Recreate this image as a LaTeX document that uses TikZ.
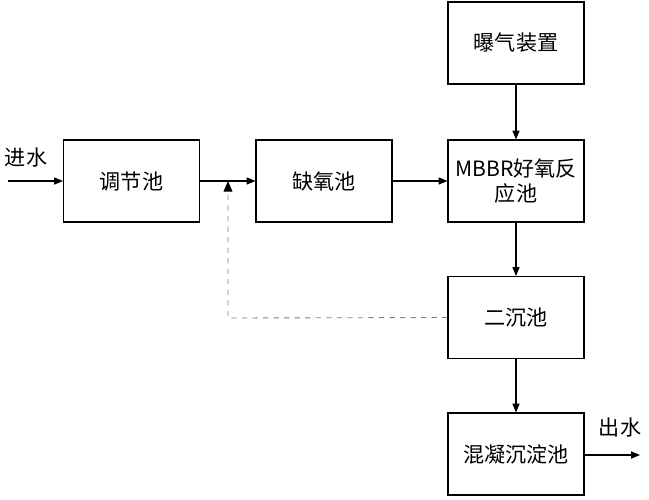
\documentclass[tikz,border=0pt]{standalone}
\usepackage{fontspec}
\setmainfont{Noto Sans CJK SC}
\usetikzlibrary{arrows.meta}
\begin{document}
\begin{tikzpicture}[x=0.02cm,y=-0.02cm,
  box/.style={draw,line width=0.6pt,minimum width=2.72cm,minimum height=1.64cm,align=center,font=\fontsize{12}{14}\selectfont},
  arr/.style={-{Triangle[length=5pt,width=4pt]},line width=0.6pt},
  lbl/.style={font=\fontsize{12}{14}\selectfont}]
\useasboundingbox (0,0) rectangle (649,500);
\node[box] (aer) at (516,43) {曝气装置};
\node[box] (tj) at (131.5,181) {调节池};
\node[box] (qy) at (324,181) {缺氧池};
\node[box] (mb) at (516,181) {MBBR好氧反\\应池};
\node[box] (ec) at (516,317.5) {二沉池};
\node[box] (hn) at (516,454) {混凝沉淀池};
\coordinate (in) at (8,181);
\coordinate (out) at (640,455);
\coordinate (j) at (228,181);
\coordinate (c) at (228,318);
\node[lbl] at (26,158) {进水};
\node[lbl] at (620,428) {出水};
\draw[arr] (in) -- (tj);
\draw[arr] (tj) -- (qy);
\draw[arr] (qy) -- (mb);
\draw[arr] (aer) -- (mb);
\draw[arr] (mb) -- (ec);
\draw[arr] (ec) -- (hn);
\draw[arr] (hn.east |- out) -- (out);
\draw[dashed,gray,line width=0.5pt,-{Triangle[length=6pt,width=5pt,black]}] (ec.west) -- (c) -- (j);
\end{tikzpicture}
\end{document}
